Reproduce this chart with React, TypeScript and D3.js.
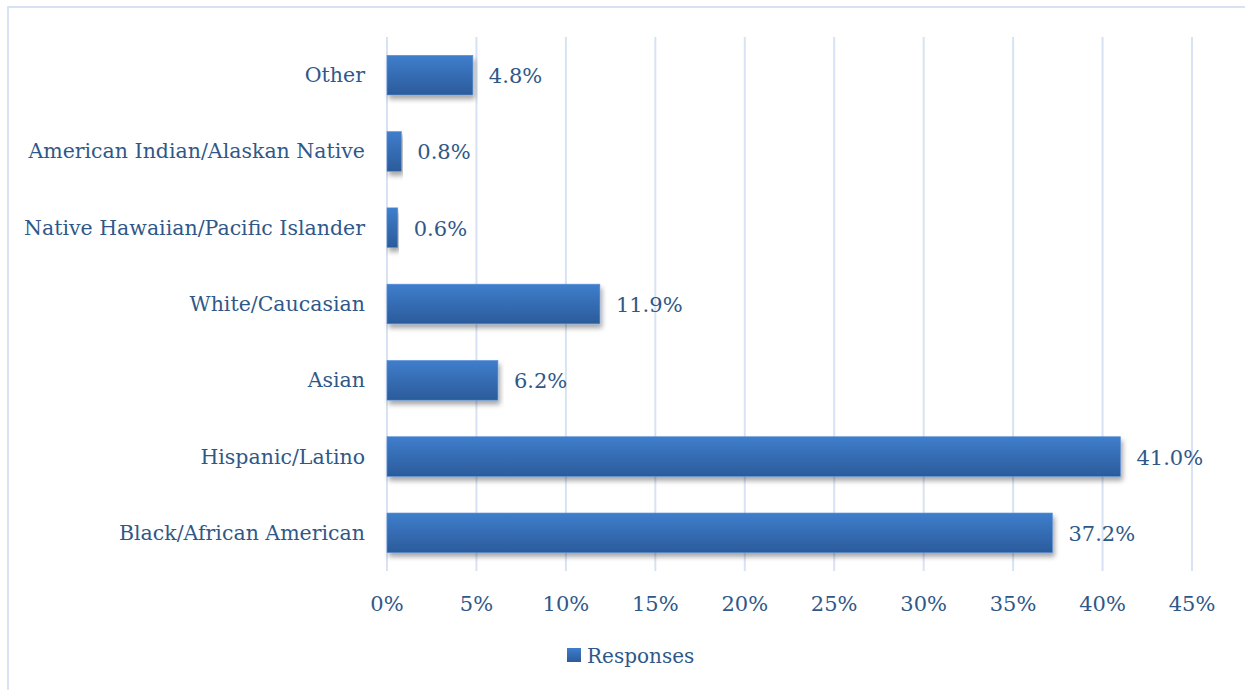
import React from 'react';
import * as d3 from 'd3';

const categories = [
  'Other',
  'American Indian/Alaskan Native',
  'Native Hawaiian/Pacific Islander',
  'White/Caucasian',
  'Asian',
  'Hispanic/Latino',
  'Black/African American',
];
const responses = [4.8, 0.8, 0.6, 11.9, 6.2, 41.0, 37.2];
const xTicks = [0, 5, 10, 15, 20, 25, 30, 35, 40, 45];
const seriesName = 'Responses';

const W = 1245;
const H = 690;
const FONT = '"DejaVu Serif", serif';
const TEXT = '#2f5888';
const GRID = '#d7e3f4';

export default function App() {
  const x = d3.scaleLinear().domain([0, 45]).range([387, 1192]);
  const y = d3.scaleBand<string>().domain(categories).range([37, 571]).paddingInner(0.48).paddingOuter(0.24);
  const bh = y.bandwidth();

  return (
    <svg width={W} height={H} style={{ position: 'absolute', left: 0, top: 0 }}>
      <defs>
        <linearGradient id="barGrad" x1="0" y1="0" x2="0" y2="1">
          <stop offset="0" stopColor="#3f7ecc" />
          <stop offset="1" stopColor="#2b5b9b" />
        </linearGradient>
        <filter id="shadow" x="-5%" y="-20%" width="110%" height="160%">
          <feDropShadow dx="2" dy="4" stdDeviation="2.5" floodColor="#000" floodOpacity="0.35" />
        </filter>
      </defs>
      <rect x={0} y={0} width={W} height={H} fill="#fff" />
      <rect x={8} y={7} width={W + 10} height={H + 10} fill="none" stroke={GRID} strokeWidth={2} />

      {xTicks.map((t) => (
        <g key={t}>
          <line x1={x(t)} x2={x(t)} y1={37} y2={571} stroke={GRID} strokeWidth={2} />
          <text x={x(t)} y={611} textAnchor="middle" fontFamily={FONT} fontSize={21} fill={TEXT}>
            {t}%
          </text>
        </g>
      ))}

      {categories.map((c, i) => {
        const yy = y(c)!;
        const v = responses[i];
        return (
          <g key={c}>
            <rect
              x={x(0)}
              y={yy}
              width={x(v) - x(0)}
              height={bh}
              fill="url(#barGrad)"
              stroke="#5b8fd6"
              strokeWidth={0.6}
              filter="url(#shadow)"
            />
            <text
              x={365}
              y={yy + bh / 2 + 7}
              textAnchor="end"
              fontFamily={FONT}
              fontSize={20.5}
              fill={TEXT}
            >
              {c}
            </text>
            <text
              x={x(v) + 16}
              y={yy + bh / 2 + 8}
              fontFamily={FONT}
              fontSize={21}
              fill={TEXT}
            >
              {v.toFixed(1)}%
            </text>
          </g>
        );
      })}

      <rect x={567} y={648} width={14} height={14} fill="url(#barGrad)" />
      <text x={587} y={663} fontFamily={FONT} fontSize={20} fill={TEXT}>
        {seriesName}
      </text>
    </svg>
  );
}
